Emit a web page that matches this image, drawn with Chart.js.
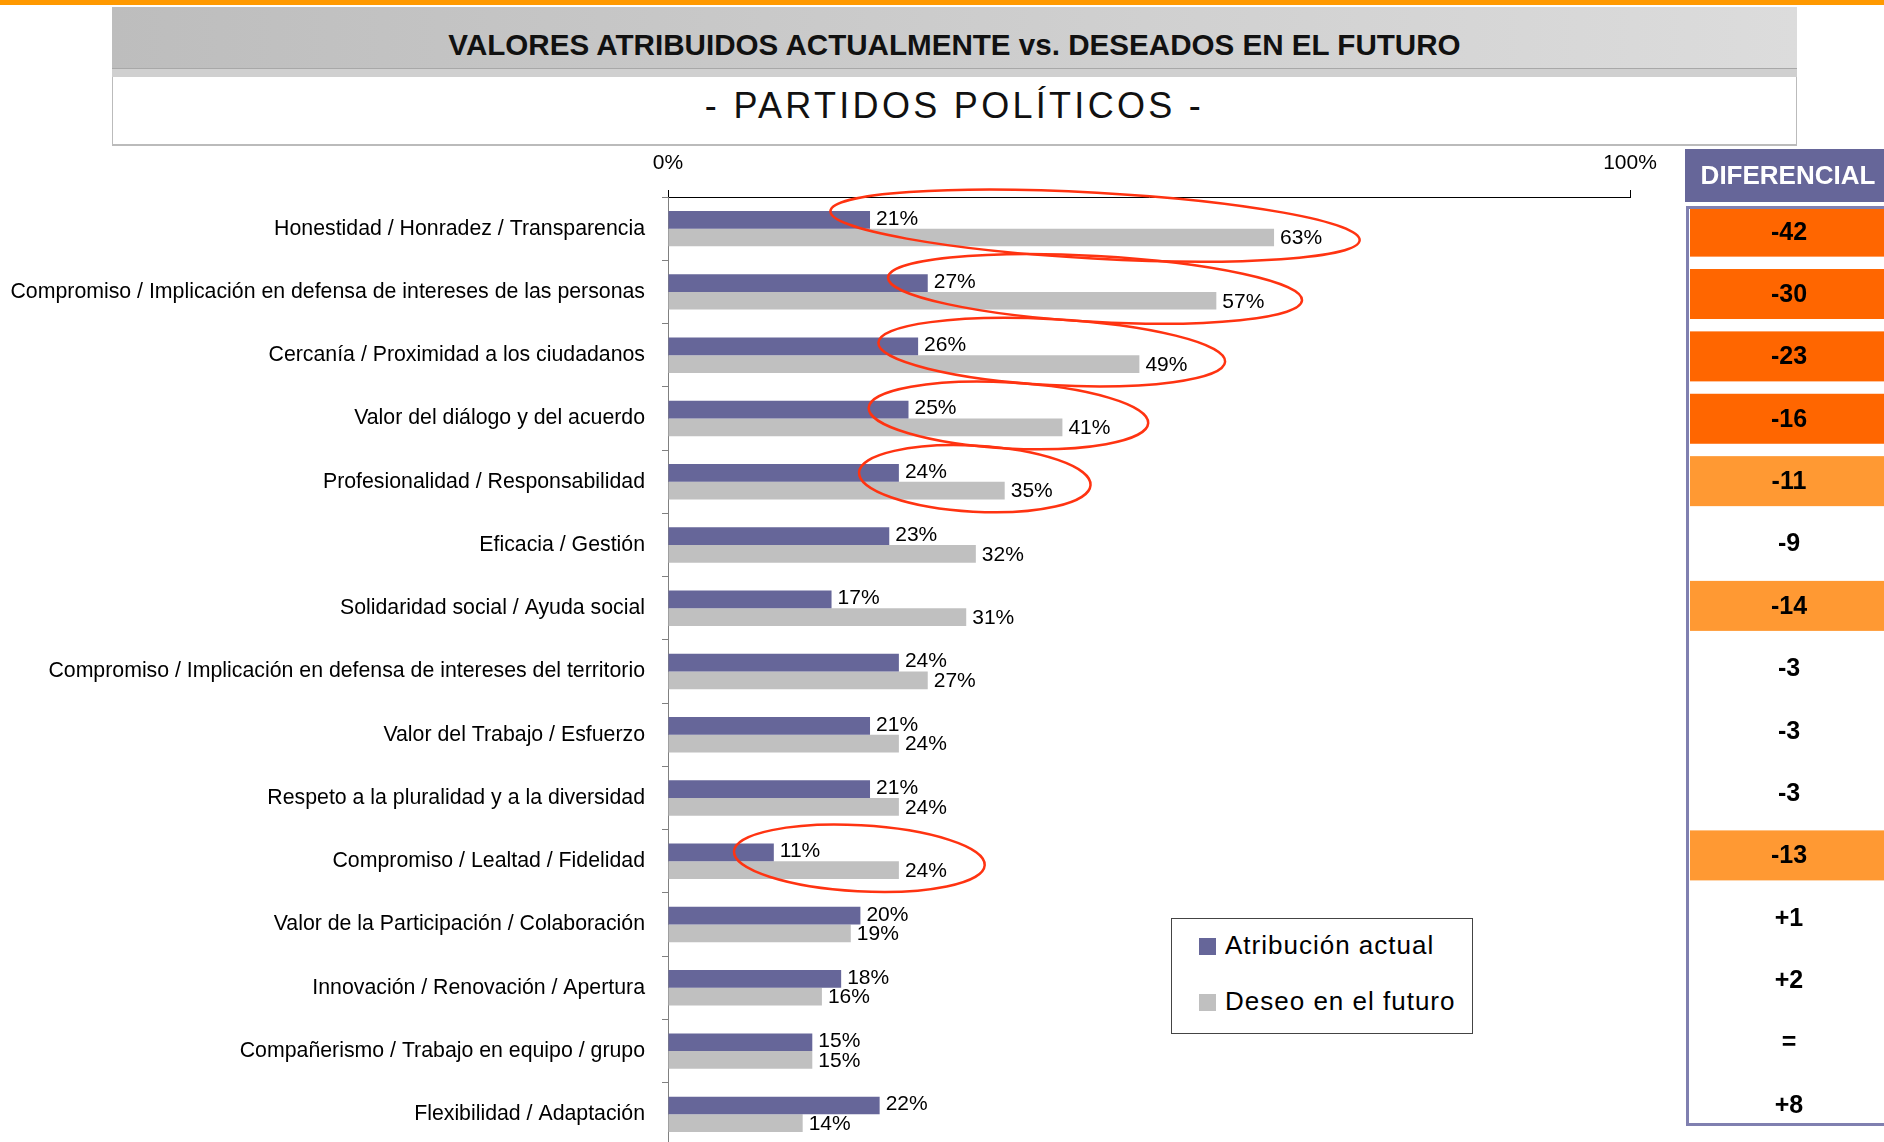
<!DOCTYPE html>
<html>
<head>
<meta charset="utf-8">
<script src="https://cdn.jsdelivr.net/npm/chart.js@4"></script>
<style>
  html, body { margin: 0; padding: 0; background: #fff; overflow: hidden; }
  body { width: 1884px; height: 1142px; position: relative; font-family: 'Liberation Sans', Arial, sans-serif; }
  #topline { position: absolute; left: 0; top: 0; width: 1884px; height: 5px; background: #ff9900; }
  #band { position: absolute; left: 112px; top: 7px; width: 1685px; height: 61px;
          background: linear-gradient(to right, #bdbdbd, #dcdcdc); border-bottom: 1px solid #a8a8a8; }
  #band div { position: absolute; left: 0; right: 0; top: 21px; text-align: center;
              font-weight: bold; font-size: 29.6px; line-height: 34px; color: #111; }
  #strip { position: absolute; left: 112px; top: 69px; width: 1685px; height: 8px; background: #d0d0d0; }
  #subbox { position: absolute; left: 112px; top: 77px; width: 1683px; height: 67px; background: #fff;
            border-left: 1px solid #bbb; border-right: 1px solid #bbb; border-bottom: 2px solid #bbb; }
  #subbox div { position: absolute; left: 0; right: 0; top: 8px; text-align: center;
                font-size: 36px; line-height: 42px; letter-spacing: 3.3px; color: #111; }
  #chart { position: absolute; left: 0; top: 0; }
  #legend { position: absolute; left: 1171px; top: 918px; width: 300px; height: 114px;
            border: 1px solid #444; background: #fff; }
  .item { position: absolute; left: 27px; height: 30px; font-size: 26px; letter-spacing: 1px;
          line-height: 30px; color: #000; white-space: nowrap; }
  .item span { display: inline-block; width: 17px; height: 17px; margin-right: 9px; vertical-align: -1px; }
</style>
</head>
<body>
<div id="topline"></div>
<div id="band"><div>VALORES ATRIBUIDOS ACTUALMENTE vs. DESEADOS EN EL FUTURO</div></div>
<div id="strip"></div>
<div id="subbox"><div>- PARTIDOS POLÍTICOS -</div></div>
<canvas id="chart" width="1884" height="1148"></canvas>
<div id="legend"></div>
<script>
// values
const categories = [
  "Honestidad / Honradez / Transparencia",
  "Compromiso / Implicación en defensa de intereses de las personas",
  "Cercanía / Proximidad a los ciudadanos",
  "Valor del diálogo y del acuerdo",
  "Profesionalidad / Responsabilidad",
  "Eficacia / Gestión",
  "Solidaridad social / Ayuda social",
  "Compromiso / Implicación en defensa de intereses del territorio",
  "Valor del Trabajo / Esfuerzo",
  "Respeto a la pluralidad y a la diversidad",
  "Compromiso / Lealtad / Fidelidad",
  "Valor de la Participación / Colaboración",
  "Innovación / Renovación / Apertura",
  "Compañerismo / Trabajo en equipo / grupo",
  "Flexibilidad / Adaptación"
];
const actual = [21, 27, 26, 25, 24, 23, 17, 24, 21, 21, 11, 20, 18, 15, 22];
const deseo = [63, 57, 49, 41, 35, 32, 31, 27, 24, 24, 24, 19, 16, 15, 14];
const diferencial = ["-42", "-30", "-23", "-16", "-11", "-9", "-14", "-3", "-3", "-3", "-13", "+1", "+2", "=", "+8"];
const circled = [0, 1, 2, 3, 4, 10];
const xTicks = [0, 100];

const FONT = "'Liberation Sans', Arial, sans-serif";
Chart.defaults.font.family = FONT;
Chart.defaults.color = "#000";

// value labels + red ellipses
const markPlugin = {
  id: "marks",
  afterDatasetsDraw(chart) {
    const ctx = chart.ctx;
    const x = chart.scales.x, y = chart.scales.y;
    ctx.save();
    ctx.font = "21px " + FONT;
    ctx.fillStyle = "#000";
    ctx.textAlign = "left";
    ctx.textBaseline = "middle";
    chart.data.datasets.forEach((ds, di) => {
      chart.getDatasetMeta(di).data.forEach((bar, i) => {
        ctx.fillText(ds.data[i] + "%", bar.x + 6, bar.y + (di === 0 ? -1 : 1));
      });
    });
    ctx.strokeStyle = "#ff3311";
    ctx.lineWidth = 2.5;
    circled.forEach((i) => {
      const x0 = x.getPixelForValue(Math.min(actual[i], deseo[i])) - 40;
      const x1 = x.getPixelForValue(Math.max(actual[i], deseo[i])) + 86;
      const cy = y.getPixelForValue(i) - 3;
      ctx.beginPath();
      ctx.ellipse((x0 + x1) / 2, cy, (x1 - x0) / 2, 33, 0.055, 0, Math.PI * 2);
      ctx.stroke();
    });
    ctx.restore();
  }
};

// DIFERENCIAL column at the right
const diffPlugin = {
  id: "diff",
  afterDraw(chart) {
    const ctx = chart.ctx;
    const y = chart.scales.y;
    ctx.save();
    ctx.fillStyle = "#666699";
    ctx.fillRect(1685, 149, 200, 53);
    ctx.fillStyle = "#fff";
    ctx.font = "bold 26px " + FONT;
    ctx.textAlign = "center";
    ctx.textBaseline = "middle";
    ctx.fillText("DIFERENCIAL", 1788, 177);

    diferencial.forEach((txt, i) => {
      const d = actual[i] - deseo[i];
      const cy = y.getPixelForValue(i) + 3 - i * 0.89;
      if (d <= -15) ctx.fillStyle = "#ff6600";
      else if (d <= -10) ctx.fillStyle = "#ff9933";
      if (d <= -10) ctx.fillRect(1690, cy - 25, 194, 50);
      ctx.fillStyle = "#000";
      ctx.font = "bold 25px " + FONT;
      ctx.fillText(txt, 1789, cy + 1);
    });

    ctx.strokeStyle = "#8080b0";
    ctx.lineWidth = 3;
    ctx.beginPath();
    ctx.moveTo(1884, 207.5);
    ctx.lineTo(1687.5, 207.5);
    ctx.lineTo(1687.5, 1124.5);
    ctx.lineTo(1884, 1124.5);
    ctx.stroke();
    ctx.restore();
  }
};

const chart = new Chart(document.getElementById("chart"), {
  type: "bar",
  data: {
    labels: categories,
    datasets: [
      { label: "Atribución actual", data: actual, backgroundColor: "#666699" },
      { label: "Deseo en el futuro", data: deseo, backgroundColor: "#c0c0c0" }
    ]
  },
  options: {
    indexAxis: "y",
    responsive: false,
    animation: false,
    events: [],
    layout: { padding: { top: 0, right: 254, bottom: 2, left: 0 } },
    datasets: { bar: { barPercentage: 1.0, categoryPercentage: 0.56 } },
    plugins: { legend: { display: false }, tooltip: { enabled: false } },
    scales: {
      x: {
        position: "top",
        min: 0,
        max: 100,
        afterBuildTicks: (s) => { s.ticks = xTicks.map((v) => ({ value: v })); },
        afterFit: (s) => { s.height = 197; s.paddingLeft = 0; s.paddingRight = 0; },
        ticks: { callback: (v) => v + "%", font: { size: 21 }, padding: 14, maxRotation: 0 },
        grid: { drawOnChartArea: false, tickLength: 7, color: "#000" },
        border: { display: true, color: "#000" }
      },
      y: {
        afterFit: (s) => { s.width = 668; s.paddingTop = 0; s.paddingBottom = 0; },
        ticks: { autoSkip: false, font: { size: 21.3 }, padding: 17 },
        grid: { drawOnChartArea: false, tickLength: 6, color: "#808080" },
        border: { display: true, color: "#808080" }
      }
    }
  },
  plugins: [markPlugin, diffPlugin]
});

// legend box
const legend = document.getElementById("legend");
chart.data.datasets.forEach((ds, i) => {
  const it = document.createElement("div");
  it.className = "item";
  it.style.top = (11 + i * 56) + "px";
  it.innerHTML = '<span style="background:' + ds.backgroundColor + '"></span>' + ds.label;
  legend.appendChild(it);
});
</script>
</body>
</html>
